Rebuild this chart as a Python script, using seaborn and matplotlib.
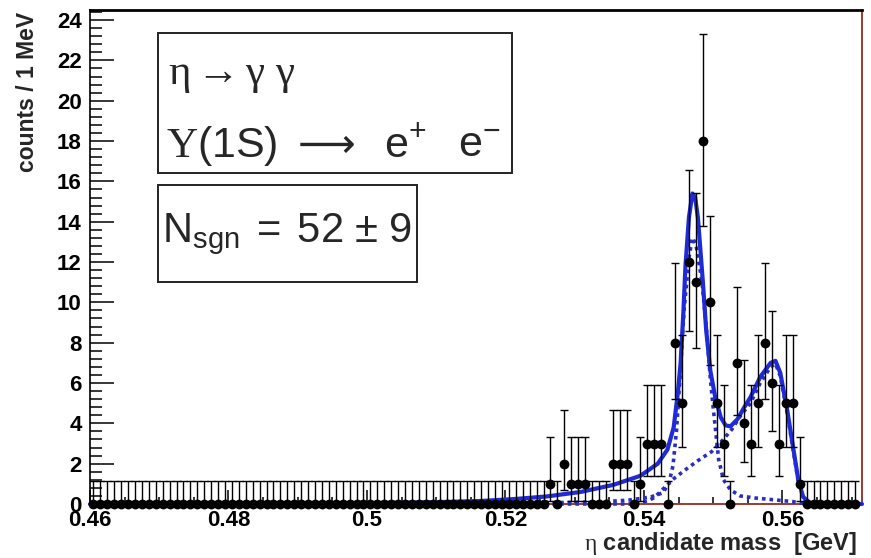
import math
import numpy as np
import pandas as pd
import matplotlib
matplotlib.use("Agg")
import matplotlib.pyplot as plt
from matplotlib.patches import Rectangle
from matplotlib.ticker import MultipleLocator, FixedLocator, FixedFormatter
import seaborn as sns

# ---- histogram: 1 MeV bins over the eta mass window -------------------------
MASS_LO, MASS_HI, BIN_WIDTH = 0.46, 0.571, 0.001

# occupied bins: bin centre [GeV] and number of entries
filled_mass = [0.5265, 0.5285, 0.5295, 0.5305, 0.5315,
               0.5355, 0.5365, 0.5375, 0.5395, 0.5405, 0.5415, 0.5425,
               0.5445, 0.5455, 0.5465, 0.5475, 0.5485, 0.5495, 0.5505, 0.5515,
               0.5535, 0.5545, 0.5555, 0.5565, 0.5575, 0.5585, 0.5595,
               0.5605, 0.5615, 0.5625]
filled_counts = [1, 2, 1, 1, 1,
                 2, 2, 2, 1, 3, 3, 3,
                 8, 5, 12, 11, 18, 10, 5, 3,
                 7, 4, 3, 5, 8, 6, 3,
                 5, 5, 1]

# ---- fitted model, sampled along the mass axis ------------------------------
total_mass = [0.4600, 0.4800, 0.4900, 0.5000, 0.5100, 0.5165, 0.5215, 0.5261,
              0.5309, 0.5356, 0.5395, 0.5420, 0.5434, 0.5443, 0.5449, 0.5453,
              0.5457, 0.5460, 0.5465, 0.5470, 0.5474, 0.5478, 0.5485, 0.5490,
              0.5496, 0.5503, 0.5511, 0.5518, 0.5525, 0.5535, 0.5545, 0.5554,
              0.5568, 0.5583, 0.5590, 0.5597, 0.5607, 0.5616, 0.5623, 0.5630,
              0.5640, 0.5715]
total_pdf = [0.00, 0.01, 0.02, 0.04, 0.09, 0.15, 0.25, 0.38,
             0.60, 0.95, 1.40, 2.00, 2.70, 3.80, 5.50, 7.00,
             9.50, 11.8, 14.2, 15.4, 15.2, 14.2, 11.1, 8.6,
             6.6, 5.3, 4.3, 3.9, 3.85, 4.2, 4.8, 5.3,
             6.3, 7.0, 7.1, 6.5, 4.65, 2.7, 1.2, 0.35,
             0.05, 0.00]

sig_mass = [0.4600, 0.5000, 0.5200, 0.5300, 0.5350, 0.5380, 0.5410, 0.5427,
            0.5436, 0.5442, 0.5447, 0.5452, 0.5458, 0.5465, 0.5470, 0.5475,
            0.5484, 0.5491, 0.5496, 0.5500, 0.5504, 0.5508, 0.5515, 0.5525,
            0.5539, 0.5560, 0.5590, 0.5615, 0.5625, 0.5640, 0.5715]
sig_pdf = [0.00, 0.01, 0.04, 0.08, 0.13, 0.20, 0.35, 0.55,
           1.00, 1.90, 3.60, 6.20, 9.60, 12.2, 13.2, 12.9,
           11.0, 8.4, 6.2, 4.8, 3.5, 2.2, 1.2, 0.70,
           0.40, 0.30, 0.20, 0.12, 0.05, 0.00, 0.00]

bkg_mass = [0.4600, 0.5380, 0.5405, 0.5414, 0.5422, 0.5441, 0.5460, 0.5478,
            0.5498, 0.5512, 0.5527, 0.5540, 0.5554, 0.5568, 0.5583, 0.5590,
            0.5597, 0.5607, 0.5616, 0.5623, 0.5630, 0.5640, 0.5715]
bkg_pdf = [0.00, 0.00, 0.15, 0.30, 0.55, 1.20, 1.70, 2.15,
           2.60, 3.10, 3.70, 4.40, 5.00, 6.00, 6.80, 6.95,
           6.35, 4.50, 2.60, 1.10, 0.30, 0.00, 0.00]

# ---- build the full histogram ------------------------------------------------
centres = np.round(np.arange(MASS_LO + BIN_WIDTH / 2, MASS_HI, BIN_WIDTH), 4)
counts = np.zeros_like(centres)
for m, n in zip(filled_mass, filled_counts):
    counts[np.argmin(np.abs(centres - m))] = n


def poisson_cdf(k, mu):
    return sum(math.exp(-mu + i * math.log(mu) - math.lgamma(i + 1)) for i in range(k + 1))


def solve(f, lo, hi):
    """Bisection for a decreasing function f with f(lo) > 0 > f(hi)."""
    for _ in range(80):
        mid = 0.5 * (lo + hi)
        if f(mid) > 0:
            lo = mid
        else:
            hi = mid
    return 0.5 * (lo + hi)


def poisson_interval(n, cl=0.6827):
    """Central 68% Poisson interval; one-sided for empty bins."""
    if n == 0:
        return 0.0, -math.log(1.0 - cl)
    alpha = 0.5 * (1.0 - cl)
    lo = solve(lambda mu: alpha - (1.0 - poisson_cdf(n - 1, mu)), 1e-9, float(n))
    hi = solve(lambda mu: poisson_cdf(n, mu) - alpha, float(n), 4.0 * n + 10)
    return lo, hi


bounds = np.array([poisson_interval(int(n)) for n in counts])
err_lo = counts - bounds[:, 0]
err_hi = bounds[:, 1] - counts

hist = pd.DataFrame({"mass": centres, "counts": counts})
total = pd.DataFrame({"mass": total_mass, "pdf": total_pdf})
sig = pd.DataFrame({"mass": sig_mass, "pdf": sig_pdf})
bkg = pd.DataFrame({"mass": bkg_mass, "pdf": bkg_pdf})

# ---- style -------------------------------------------------------------------
sns.set_style("ticks")
plt.rcParams["font.family"] = ["Liberation Sans", "DejaVu Sans"]
plt.rcParams["mathtext.fontset"] = "custom"
plt.rcParams["mathtext.rm"] = "Liberation Serif"
plt.rcParams["mathtext.it"] = "Liberation Serif:italic"
plt.rcParams["mathtext.sf"] = "Liberation Sans"

W, H = 871, 558
fig = plt.figure(figsize=(W / 100, H / 100), dpi=100)
fig.patch.set_facecolor("white")


def fx(px):
    return px / W


def fy(py):
    return 1.0 - py / H


AX_L, AX_R, AX_T, AX_B = 90, 862, 10, 504
ax = fig.add_axes([fx(AX_L), fy(AX_B), (AX_R - AX_L) / W, (AX_B - AX_T) / H])
ax.set_facecolor("white")

BLUE = "#1f2bd6"
DOT_BLUE = "#2a2ec0"
FRAME_RED = "#9a3a32"

# fitted curves
sns.lineplot(data=sig, x="mass", y="pdf", ax=ax, color=DOT_BLUE,
             linewidth=2.6, linestyle=(0, (1, 1.1)), clip_on=False, zorder=3)
sns.lineplot(data=bkg, x="mass", y="pdf", ax=ax, color=DOT_BLUE,
             linewidth=2.6, linestyle=(0, (1, 1.1)), clip_on=False, zorder=3)
sns.lineplot(data=total, x="mass", y="pdf", ax=ax, color=BLUE,
             linewidth=3.0, clip_on=False, zorder=4)

# data points with Poisson error bars
ax.errorbar(hist["mass"], hist["counts"], yerr=[err_lo, err_hi], fmt="none",
            ecolor="black", elinewidth=1.0, capsize=3.2, capthick=1.0, zorder=5)
sns.scatterplot(data=hist, x="mass", y="counts", ax=ax, color="black",
                s=50, edgecolor="black", linewidth=0, zorder=6, clip_on=False)

ax.set_xlim(0.46, 0.5715)
ax.set_ylim(0, 24.5)
ax.set_xlabel("")
ax.set_ylabel("")

ax.xaxis.set_major_locator(FixedLocator([0.46, 0.48, 0.50, 0.52, 0.54, 0.56]))
ax.xaxis.set_major_formatter(FixedFormatter(["0.46", "0.48", "0.5", "0.52", "0.54", "0.56"]))
ax.xaxis.set_minor_locator(MultipleLocator(0.005))
ax.yaxis.set_major_locator(MultipleLocator(2))
ax.yaxis.set_minor_locator(MultipleLocator(0.4))

ax.tick_params(axis="both", which="both", direction="in", colors="black",
               top=False, right=False, width=1.1)
ax.tick_params(axis="x", which="major", length=10, pad=4)
ax.tick_params(axis="x", which="minor", length=5)
ax.tick_params(axis="y", which="major", length=17, pad=6)
ax.tick_params(axis="y", which="minor", length=8.5)
for lab in ax.get_xticklabels() + ax.get_yticklabels():
    lab.set_fontsize(16)
    lab.set_fontweight("bold")

ax.spines["left"].set_color("black")
ax.spines["left"].set_linewidth(1.2)
ax.spines["top"].set_color("black")
ax.spines["top"].set_linewidth(2.0)
ax.spines["right"].set_color(FRAME_RED)
ax.spines["right"].set_linewidth(1.4)
ax.spines["bottom"].set_color(FRAME_RED)
ax.spines["bottom"].set_linewidth(1.4)

# axis titles
fig.text(fx(27), fy(12), "counts / 1 MeV", rotation=90, ha="center", va="top",
         fontsize=16.5, fontweight="bold")
fig.text(fx(857), fy(550), r"$\mathrm{\eta}$ candidate mass  [GeV]", ha="right",
         va="baseline", fontsize=17, fontweight="bold")

# legend boxes
for (x0, y0, x1, y1) in [(158, 33, 512, 173), (158, 185, 417, 282)]:
    fig.patches.append(Rectangle((fx(x0), fy(y1)), (x1 - x0) / W, (y1 - y0) / H,
                                 transform=fig.transFigure, facecolor="white",
                                 edgecolor="#222222", linewidth=1.4, zorder=10))

fig.text(fx(168), fy(84), r"$\mathrm{\eta \rightarrow \gamma\ \gamma}$",
         fontsize=31, ha="left", va="baseline", zorder=11)
# decay of the Upsilon, written piece by piece
fig.text(fx(166), fy(157), r"$\mathrm{\Upsilon}\mathsf{(1S)}$",
         fontsize=31, ha="left", va="baseline", zorder=11)
fig.text(fx(298), fy(157), "\u27f6", family=["DejaVu Sans"],
         fontsize=29, ha="left", va="baseline", zorder=11)
fig.text(fx(384), fy(157), r"$\mathsf{e^{+}}$",
         fontsize=31, ha="left", va="baseline", zorder=11)
fig.text(fx(458), fy(157), r"$\mathsf{e^{-}}$",
         fontsize=31, ha="left", va="baseline", zorder=11)
fig.text(fx(162), fy(242), r"$\mathsf{N_{sgn}\ =\ 52\,\pm\,9}$",
         fontsize=30, ha="left", va="baseline", zorder=11)

fig.savefig("out.png", dpi=100, facecolor="white")
